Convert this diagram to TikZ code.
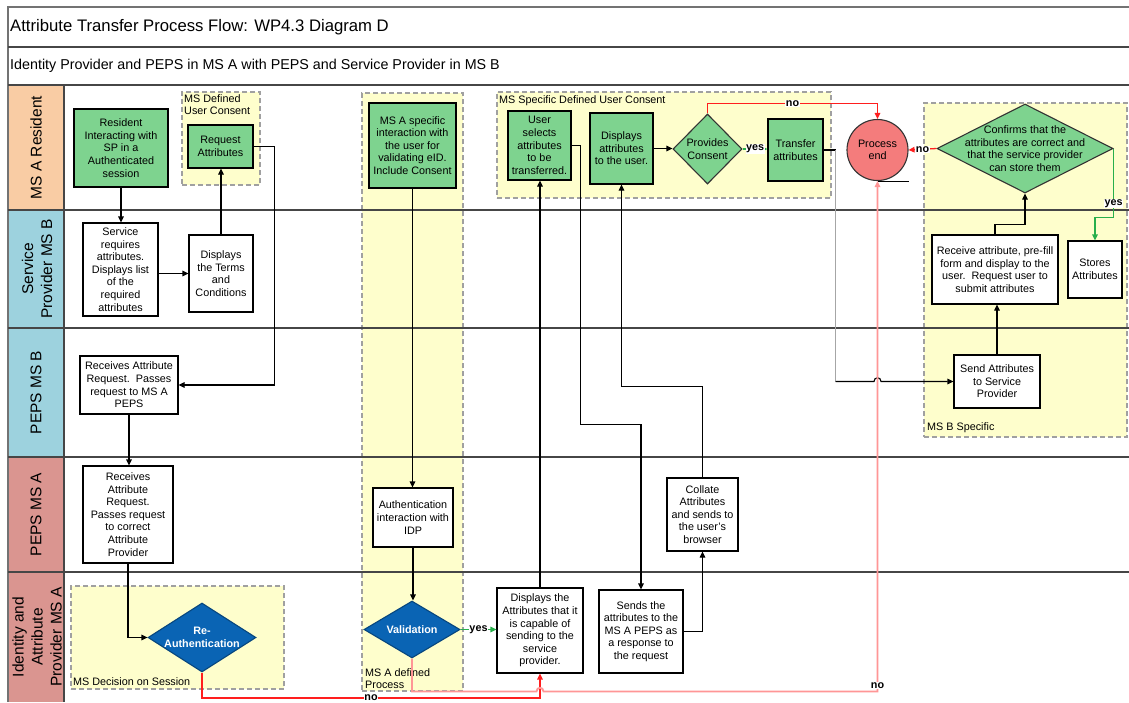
\documentclass[tikz,border=0pt]{standalone}
\usepackage{fontspec}
\setmainfont{Liberation Sans}
\usetikzlibrary{shapes.geometric, arrows.meta, calc}

\definecolor{boxgreen}{RGB}{126,211,143}
\definecolor{regionyellow}{RGB}{254,254,204}
\definecolor{regiongray}{RGB}{160,160,160}
\definecolor{lanepeach}{RGB}{249,204,164}
\definecolor{laneblue}{RGB}{157,210,222}
\definecolor{lanerose}{RGB}{218,149,144}
\definecolor{framegray}{RGB}{70,70,70}
\definecolor{decblue}{RGB}{10,100,180}
\definecolor{endred}{RGB}{244,124,124}
\definecolor{nored}{RGB}{255,30,30}
\definecolor{nopink}{RGB}{255,150,150}
\definecolor{yesgreen}{RGB}{40,175,75}

\newcommand{\cellfont}{\fontsize{10.8}{12.6}\selectfont}
\newcommand{\lanefont}{\fontsize{15.5}{19}\selectfont}
\newcommand{\headfont}{\fontsize{16.7}{20}\selectfont}
\newcommand{\subheadfont}{\fontsize{14.3}{17}\selectfont}

\begin{document}
\begin{tikzpicture}[x=1pt, y=-1pt,
  lane/.style={font=\lanefont, rotate=90, align=center, inner sep=0pt},
  box/.style={draw=black, line width=1.1pt, fill=white, align=center, font=\cellfont, inner sep=1pt},
  gbox/.style={box, fill=boxgreen},
  region/.style={draw=regiongray, dash pattern=on 5pt off 3pt, line width=1.1pt, fill=regionyellow, inner sep=0pt},
  rlabel/.style={font=\cellfont, align=left, inner sep=1pt},
  decision/.style={diamond, draw=black!80, line width=1.1pt, inner sep=0pt},
  dtext/.style={font=\cellfont, align=center, inner sep=0pt},
  arr/.style={-{Triangle[length=6pt,width=5.5pt]}, line width=1.1pt},
  line/.style={line width=1.1pt},
  elbl/.style={font=\cellfont\bfseries, fill=white, inner sep=0.5pt},
  frame/.style={draw=framegray, line width=1.3pt}
]
\useasboundingbox (0,0) rectangle (1129,702);
\fill[white] (0,0) rectangle (1129,702);

% swimlane label columns
\fill[lanepeach] (8,85) rectangle (64,210);
\fill[laneblue]  (8,210) rectangle (64,457);
\fill[lanerose]  (8,457) rectangle (64,702);

% shaded groupings
\node[region, minimum width=78pt,  minimum height=93pt]  (gconsent) at (221,138.5) {};
\node[region, minimum width=101pt, minimum height=598pt] (gprocess) at (412.5,392) {};
\node[region, minimum width=334pt, minimum height=106pt] (gspecific) at (664,145) {};
\node[region, minimum width=203pt, minimum height=334pt] (gmsb) at (1025.5,270) {};
\node[region, minimum width=213pt, minimum height=103pt] (gsession) at (177.5,637.5) {};

\node[rlabel, anchor=north west] (tconsent) at (183,93) {MS Defined\\User Consent};
\node[rlabel, anchor=south west] (tprocess) at (364,690) {MS A defined\\Process};
\node[rlabel, anchor=north west] (tspecific) at (498,94) {MS Specific Defined User Consent};
\node[rlabel, anchor=south west] (tmsb) at (926,434) {MS B Specific};
\node[rlabel, anchor=south west] (tsession) at (72,687) {MS Decision on Session};

% frame and lane separators
\draw[frame, draw=black!55, line width=1.6pt] (1129,7) -- (8,7) -- (8,702);
\draw[frame] (8,47) -- (1129,47);
\draw[frame] (8,85) -- (1129,85);
\draw[frame] (8,210) -- (1129,210);
\draw[frame] (8,328) -- (1129,328);
\draw[frame] (8,457) -- (1129,457);
\draw[frame] (8,572) -- (1129,572);
\draw[frame] (64,85) -- (64,702);

% headings
\node[font=\headfont, anchor=west, inner sep=1pt] (title) at (9,27) {Attribute Transfer Process Flow: WP4.3 Diagram D};
\node[font=\subheadfont, anchor=west, inner sep=1pt] (subtitle) at (9,66) {Identity Provider and PEPS in MS A with PEPS and Service Provider in MS B};

% lane names
\node[lane] (lane1) at (36,147.5) {MS A Resident};
\node[lane] (lane2) at (37,269) {Service\\Provider MS B};
\node[lane] (lane3) at (36,392.5) {PEPS MS B};
\node[lane] (lane4) at (36,514.5) {PEPS MS A};
\node[lane] (lane5) at (37,637) {Identity and\\Attribute\\Provider MS A};

% MS A Resident lane
\node[gbox, minimum width=94pt, minimum height=78pt] (res) at (121,148) {Resident\\Interacting with\\SP in a\\Authenticated\\session};
\node[gbox, minimum width=65pt, minimum height=43pt] (reqatt) at (220.5,146.5) {Request\\Attributes};
\node[gbox, minimum width=87pt, minimum height=85pt] (msa) at (412.5,145.5) {MS A specific\\interaction with\\the user for\\validating eID.\\Include Consent};
\node[gbox, minimum width=63pt, minimum height=69pt] (usel) at (539.5,145.5) {User\\selects\\attributes\\to be\\transferred.};
\node[gbox, minimum width=63pt, minimum height=71pt] (dispu) at (621.5,148.5) {Displays\\attributes\\to the user.};
\node[decision, fill=boxgreen, minimum width=69pt, minimum height=70pt] (cons) at (707.5,149) {};
\node[dtext] (constext) at (cons.center) {Provides\\Consent};
\node[gbox, minimum width=55pt, minimum height=62pt] (trans) at (795.5,150) {Transfer\\attributes};
\node[circle, draw=black!80, line width=1.1pt, fill=endred, minimum size=61pt, inner sep=0pt, font=\cellfont, align=center] (pend) at (877.5,150) {Process\\end};
\node[decision, fill=boxgreen, minimum width=176pt, minimum height=89pt] (conf) at (1025,148.5) {};
\node[dtext] (conftext) at (conf.center) {Confirms that the\\attributes are correct and\\that the service provider\\can store them};

% Service Provider MS B lane
\node[box, minimum width=75pt, minimum height=93pt] (svc) at (120.5,269.5) {Service\\requires\\attributes.\\Displays list\\of the\\required\\attributes};
\node[box, minimum width=64pt, minimum height=77pt] (terms) at (221,273.5) {Displays\\the Terms\\and\\Conditions};
\node[box, minimum width=126pt, minimum height=69pt] (recv) at (995,269.5) {Receive attribute, pre-fill\\form and display to the\\user.\ \ Request user to\\submit attributes};
\node[box, minimum width=54pt, minimum height=57pt] (stores) at (1095,269.5) {Stores\\Attributes};

% PEPS MS B lane
\node[box, minimum width=98pt, minimum height=58pt] (pepsb) at (129,385) {Receives Attribute\\Request.\ \ Passes\\request to MS A\\PEPS};
\node[box, minimum width=86pt, minimum height=53pt] (sendsp) at (997,381.5) {Send Attributes\\to Service\\Provider};

% PEPS MS A lane
\node[box, minimum width=90pt, minimum height=97pt] (pepsa) at (128,514.5) {Receives\\Attribute\\Request.\\Passes request\\to correct\\Attribute\\Provider};
\node[box, minimum width=80pt, minimum height=59pt] (auth) at (413,517.5) {Authentication\\interaction with\\IDP};
\node[box, minimum width=71pt, minimum height=73pt] (coll) at (702.5,514.5) {Collate\\Attributes\\and sends to\\the user's\\browser};

% Identity and Attribute Provider MS A lane
\node[decision, fill=decblue, draw=decblue!70!black, minimum width=108pt, minimum height=69pt] (reauth) at (202,637.5) {};
\node[dtext, text=white, font=\cellfont\bfseries] (reauthtext) at (reauth.center) {Re-\\Authentication};
\node[decision, fill=decblue, draw=decblue!70!black, minimum width=96pt, minimum height=57pt] (valid) at (412,629.5) {};
\node[dtext, text=white, font=\cellfont\bfseries] (validtext) at (valid.center) {Validation};
\node[box, minimum width=86pt, minimum height=85pt] (dispattr) at (540,630.5) {Displays the\\Attributes that it\\is capable of\\sending to the\\service\\provider.};
\node[box, minimum width=84pt, minimum height=83pt] (sends) at (641,631.5) {Sends the\\attributes to the\\MS A PEPS as\\a response to\\the request};

% flow connectors
\draw[arr] (res.south) -- (res.south |- svc.north);
\draw[arr] (svc.east |- terms.west) -- (terms.west);
\draw[arr] (terms.north) -- (terms.north |- reqatt.south);
\draw[arr] (reqatt.east) -- ++(21,0) |- (pepsb.east);
\draw[arr] (pepsb.south) -- (pepsb.south |- pepsa.north);
\draw[arr] (pepsa.south) |- (reauth.west);
\draw[arr] (msa.south) -- (msa.south |- auth.north);
\draw[arr] (auth.south) -- (auth.south |- valid.north);
\draw[arr, yesgreen] (valid.east) -- node[elbl, text=black] {yes} (valid.east -| dispattr.west);
\draw[arr] (dispattr.north) -- (dispattr.north |- usel.south);
\draw[arr] (usel.east) -- ++(9,0) -- ++(0,279) -| (sends.north);
\draw[arr] (sends.east) -| (coll.south);
\draw[arr] (coll.north) -- ++(0,-91) -| (dispu.south);
\draw[arr] (dispu.east) -- (dispu.east -| cons.west);
\draw[arr, yesgreen] (cons.east) -- node[elbl, text=black] {yes} (cons.east -| trans.west);
\draw[arr, nored, line width=1.3pt] (cons.north) -- ++(0,-10) coordinate (cn) -- node[elbl, text=black] {no} (cn -| pend.north) -- (pend.north);
\draw[line] (trans.east) -- ++(12,0) coordinate (tb);
\draw[line width=1.6pt, black!35] (tb) -- (tb |- sendsp.west) coordinate (tc);
\draw[arr] (tc) -- ($(sendsp.west -| pend.south)+(-3.5,0)$)
  .. controls +(0,-5) and +(0,-5) .. ($(sendsp.west -| pend.south)+(3.5,0)$) -- (sendsp.west);
\draw[line] (pend.south) -- ++(31,0);
\draw[arr] (sendsp.north) -- (sendsp.north |- recv.south);
\draw[arr] (recv.north) -- ++(0,-10) -| (conf.south);
\draw[arr, yesgreen, line width=1.3pt] (conf.east) -- node[elbl, text=black, pos=0.8] {yes} ++(0,69) -| (stores.north);
\draw[arr, nored, line width=1.3pt] (conf.west) -- node[elbl, text=black] {no} (pend.east);
\draw[arr, nored, line width=1.3pt] (reauth.south) -- ++(0,25.5) coordinate (rb) -- node[elbl, text=black] {no} (rb -| dispattr.south) -- (dispattr.south);
\draw[arr, nopink, line width=1.8pt] (valid.south) -- ++(0,33) coordinate (pb)
  -- ($(pb -| dispattr.south)+(-3.5,0)$)
  .. controls +(0,-5) and +(0,-5) .. ($(pb -| dispattr.south)+(3.5,0)$)
  -- (pb -| pend.south) -- node[elbl, text=black, pos=0.012] {no} (pend.south);
\end{tikzpicture}
\end{document}
